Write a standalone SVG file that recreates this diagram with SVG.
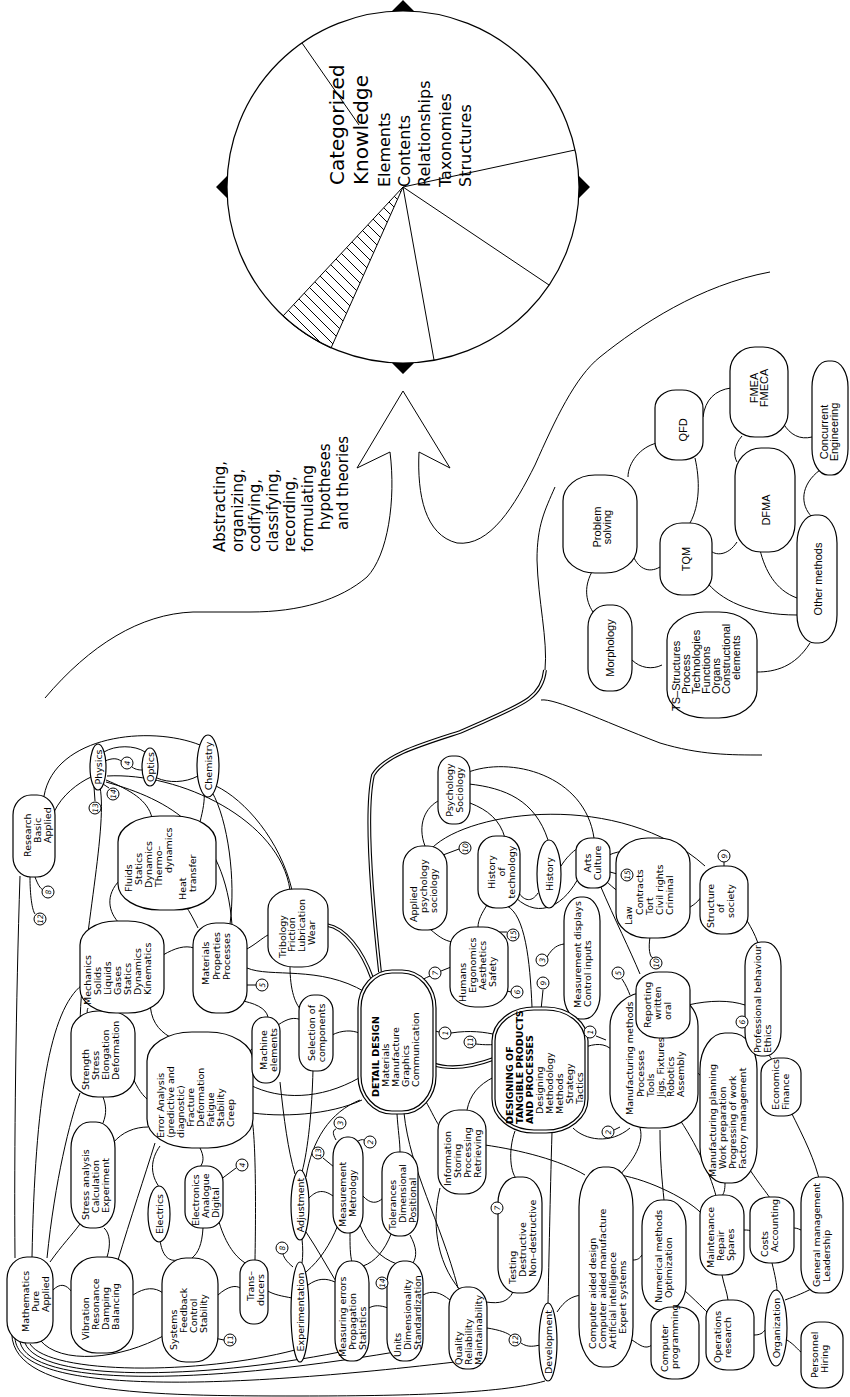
<svg xmlns="http://www.w3.org/2000/svg" width="850" height="1397" viewBox="0 0 850 1397">
<style>
.t{font-family:"DejaVu Sans",sans-serif;font-size:9.5px;fill:#000}
.tb{font-weight:bold}
.s{font-family:"Liberation Sans",Arial,sans-serif;font-size:11px;fill:#000}
.n{fill:#fff;stroke:#000;stroke-width:1.2}
.c{fill:none;stroke:#000;stroke-width:1}
.d1{fill:none;stroke:#000;stroke-width:3.8}
.d2{fill:none;stroke:#fff;stroke-width:1.6}
.r circle{fill:#fff;stroke:#000;stroke-width:1}
.r text{font-family:"DejaVu Sans",sans-serif;font-size:7.5px;font-style:italic}
.big{font-family:"DejaVu Sans",sans-serif;fill:#000}
</style>
<defs>
<pattern id="hatch" patternUnits="userSpaceOnUse" width="11" height="11"><path d="M0,0 L11,11 M-3,8 L3,14 M8,-3 L14,3" stroke="#000" stroke-width="1"/></pattern>
</defs>
<rect width="850" height="1397" fill="#fff"/>

<g id="knowledge">
<circle cx="403" cy="187" r="176" fill="#fff" stroke="#000" stroke-width="1.2"/>
<path d="M403 187 L283 316 A176 176 0 0 0 331 348 Z" fill="url(#hatch)" stroke="#000" stroke-width="1"/>
<path class="c" d="M403 187 L434 360 M403 187 L549 285 M403 187 L575 150 M302 43 L359 125"/>
<path d="M392 363 L414 363 L403 374 Z M392 11 L414 11 L403 0 Z M227 176 L227 198 L216 187 Z M579 176 L579 198 L590 187 Z" fill="#000"/>
<text class="big" font-size="20" transform="translate(344,185) rotate(-90)">Categorized</text>
<text class="big" font-size="20" transform="translate(368,185) rotate(-90)">Knowledge</text>
<text class="big" font-size="16" transform="translate(390,187) rotate(-90)">Elements</text>
<text class="big" font-size="16" transform="translate(410,187) rotate(-90)">Contents</text>
<text class="big" font-size="16" transform="translate(430,187) rotate(-90)">Relationships</text>
<text class="big" font-size="16" transform="translate(451,187) rotate(-90)">Taxonomies</text>
<text class="big" font-size="16" transform="translate(471,187) rotate(-90)">Structures</text>
</g>

<g id="arrow">
<path class="c" stroke-width="1.2" d="M45 698 C90 645 140 614 193 612 L250 612 C300 612 340 600 367 577 C388 555 396 500 390 452 L357 468 L403 391 L450 468 L419 452 C417 495 425 535 457 543 C490 547 515 505 535 465 C555 420 575 377 600 357 C640 325 700 285 770 272"/>
<text class="big" font-size="15" transform="translate(225,552) rotate(-90)">Abstracting,</text>
<text class="big" font-size="15" transform="translate(242.5,552) rotate(-90)">organizing,</text>
<text class="big" font-size="15" transform="translate(260,552) rotate(-90)">codifying,</text>
<text class="big" font-size="15" transform="translate(277.5,552) rotate(-90)">classifying,</text>
<text class="big" font-size="15" transform="translate(295,552) rotate(-90)">recording,</text>
<text class="big" font-size="15" transform="translate(312.5,552) rotate(-90)">formulating</text>
<text class="big" font-size="15" transform="translate(330,530) rotate(-90)">hypotheses</text>
<text class="big" font-size="15" transform="translate(347.5,530) rotate(-90)">and  theories</text>
</g>

<g id="connectors">
<path class="c" d="M555 487 C545 510 537 525 537 560 C538 600 548 640 545 670"/>
<path class="d1" d="M545 670 C542 700 520 705 460 732 C420 745 385 755 373 775 C365 810 372 900 380 972"/>
<path class="d2" d="M545 670 C542 700 520 705 460 732 C420 745 385 755 373 775 C365 810 372 900 380 972"/>
<path class="d1" d="M327 925 C345 928 362 950 372 978"/>
<path class="d2" d="M327 925 C345 928 362 950 372 978"/>
<path class="d1" d="M433 1064 C455 1072 480 1064 496 1058"/>
<path class="d2" d="M433 1064 C455 1072 480 1064 496 1058"/>
<path class="c" d="M541 700 C555 698 600 720 660 743 C700 755 730 755 762 755"/>

<path class="c" d="M44 796 C55 735 150 725 200 745"/>
<path class="c" d="M54 812 C62 795 78 783 91 777"/>
<path class="c" d="M104 752 C115 745 135 745 145 752"/>
<path class="c" d="M105 761 C112 758 117 758 121 761 M132 767 C136 770 140 770 143 770"/>
<path class="c" d="M157 778 C168 783 185 783 198 776"/>
<path class="c" d="M94 787 L95 801 M103 784 L109 788"/>
<path class="c" d="M106 780 C130 790 148 800 152 818"/>
<path class="c" d="M106 782 C170 800 225 830 232 925"/>
<path class="c" d="M107 776 C180 772 280 820 290 890"/>
<path class="c" d="M216 786 C245 800 280 840 292 890"/>
<path class="c" d="M212 792 C228 820 236 880 230 924"/>
<path class="c" d="M204 792 C205 800 203 810 200 822"/>
<path class="c" d="M35 877 C38 885 40 888 43 890 M30 877 C30 895 32 910 35 914"/>
<path class="c" d="M20 876 C16 1000 14 1150 15 1258"/>
<path class="c" d="M82 985 C50 1010 35 1100 32 1257"/>
<path class="c" d="M47 1258 C55 1180 70 1120 80 1093"/>
<path class="c" d="M100 787 C108 830 80 950 80 1030"/>
<path class="c" d="M120 880 C105 895 108 912 120 924"/>
<path class="c" d="M185 905 C190 912 194 920 198 928"/>
<path class="c" d="M163 955 C175 948 185 945 194 948"/>
<path class="c" d="M88 1008 C86 1012 88 1016 90 1018"/>
<path class="c" d="M150 1000 C150 1020 158 1030 170 1037"/>
<path class="c" d="M238 1000 C255 1003 266 1008 268 1017"/>
<path class="c" d="M244 985 L256 985"/>
<path class="c" d="M245 950 C255 945 262 938 268 935"/>
<path class="c" d="M247 968 C270 978 320 965 365 992"/>
<path class="c" d="M290 966 C290 990 295 1005 303 1012"/>
<path class="c" d="M130 1072 C136 1085 140 1093 148 1100"/>
<path class="c" d="M103 1123 C107 1113 106 1105 103 1097"/>
<path class="c" d="M113 1143 C122 1132 135 1127 148 1127"/>
<path class="c" d="M50 1262 C62 1245 72 1235 80 1224"/>
<path class="c" d="M53 1290 C60 1283 66 1284 72 1292"/>
<path class="c" d="M107 1257 C111 1245 110 1233 104 1228"/>
<path class="c" d="M118 1260 C130 1220 145 1175 155 1143"/>
<path class="c" d="M133 1295 C145 1287 155 1287 163 1293"/>
<path class="c" d="M160 1146 C150 1160 150 1175 160 1188"/>
<path class="c" d="M200 1148 C204 1156 204 1162 200 1167"/>
<path class="c" d="M160 1240 C162 1255 168 1262 178 1260"/>
<path class="c" d="M203 1228 C202 1245 198 1253 192 1258"/>
<path class="c" d="M219 1222 C226 1245 236 1258 247 1264"/>
<path class="c" d="M220 1180 L236 1168"/>
<path class="c" d="M218 1295 C228 1286 236 1285 240 1288"/>
<path class="c" d="M214 1338 L224 1340"/>
<path class="c" d="M40 1340 C60 1365 120 1360 165 1335"/>
<path class="c" d="M250 1110 C256 1125 256 1200 255 1260"/>
<path class="c" d="M243 1060 C248 1055 250 1050 253 1048"/>
<path class="c" d="M250 1085 C280 1100 320 1100 359 1078"/>
<path class="c" d="M246 1112 C280 1118 330 1115 362 1100"/>
<path class="c" d="M278 1025 C288 1018 295 1017 301 1020"/>
<path class="c" d="M280 1082 C284 1120 288 1150 295 1174"/>
<path class="c" d="M313 1070 C312 1110 308 1150 302 1172"/>
<path class="c" d="M332 1035 C342 1030 352 1030 359 1033"/>
<path class="c" d="M306 1177 C312 1140 330 1112 360 1100"/>
<path class="c" d="M336 1140 C332 1133 333 1130 336 1129 M356 1142 C360 1140 362 1139 364 1140 M334 1167 L323 1158"/>
<path class="c" d="M333 1196 C322 1188 315 1192 309 1198"/>
<path class="c" d="M363 1196 C370 1204 377 1204 383 1198"/>
<path class="c" d="M338 1225 C330 1245 320 1260 306 1272"/>
<path class="c" d="M350 1233 C350 1245 350 1255 352 1262"/>
<path class="c" d="M360 1225 C368 1245 380 1258 397 1264"/>
<path class="c" d="M302 1239 C303 1248 303 1256 302 1263"/>
<path class="c" d="M306 1232 C318 1250 326 1265 337 1283"/>
<path class="c" d="M293 1267 C287 1262 284 1258 283 1254"/>
<path class="c" d="M292 1298 C282 1296 274 1295 266 1290"/>
<path class="c" d="M308 1285 C318 1278 326 1278 335 1282"/>
<path class="c" d="M391 1234 C385 1250 375 1262 363 1266"/>
<path class="c" d="M410 1235 C417 1248 417 1256 413 1263"/>
<path class="c" d="M396 1276 C392 1278 390 1280 388 1282"/>
<path class="c" d="M388 1308 C380 1305 374 1305 369 1308"/>
<path class="c" d="M423 1295 C432 1290 440 1292 450 1300"/>
<path class="c" d="M397 1114 C398 1130 400 1142 400 1152"/>
<path class="c" d="M404 1113 C410 1170 440 1220 458 1288"/>
<path class="c" d="M425 1100 C432 1112 436 1122 442 1130"/>
<path class="c" d="M12 1328 C5 1395 150 1396 300 1396 C400 1396 500 1394 545 1381"/>
<path class="c" d="M15 1338 C18 1392 200 1392 455 1362"/>
<path class="c" d="M20 1342 C30 1387 200 1385 395 1352"/>
<path class="c" d="M25 1343 C40 1382 200 1380 340 1352"/>
<path class="c" d="M30 1344 C50 1375 200 1375 295 1350"/>
<path class="c" d="M435 1031 L439 1032 M451 1033 C470 1030 485 1032 497 1035 M476 1044 C485 1045 492 1045 497 1044"/>
<path class="c" d="M494 1077 C478 1085 470 1095 467 1110"/>
<path class="c" d="M515 1131 C508 1150 510 1175 518 1180"/>
<path class="c" d="M552 1132 C550 1200 549 1260 548 1303"/>
<path class="c" d="M504 1212 L501 1214"/>
<path class="c" d="M513 1292 C508 1302 500 1304 486 1302"/>
<path class="c" d="M487 1328 C500 1330 508 1333 511 1336 M521 1343 C528 1348 535 1346 540 1345"/>
<path class="c" d="M557 1312 C565 1300 572 1296 582 1295"/>
<path class="c" d="M440 1188 C432 1220 435 1260 460 1290"/>
<path class="c" d="M485 1145 C520 1150 560 1160 585 1175"/>
<path class="c" d="M583 1048 C595 1043 605 1043 612 1050"/>
<path class="c" d="M596 1036 L606 1040"/>
<path class="c" d="M573 1128 C585 1140 610 1145 630 1128"/>
<path class="c" d="M614 1130 L620 1127"/>
<path class="c" d="M640 1128 C645 1145 630 1165 615 1180"/>
<path class="c" d="M543 990 L541 1010"/>
<path class="c" d="M547 957 C553 947 558 945 564 944"/>
<path class="c" d="M507 906 C525 915 530 960 532 1007"/>
<path class="c" d="M503 990 L511 992"/>
<path class="c" d="M497 932 L507 932"/>
<path class="c" d="M451 967 L441 971 M430 976 C420 980 415 985 413 990"/>
<path class="c" d="M430 929 C440 938 447 942 455 942"/>
<path class="c" d="M443 855 L459 849"/>
<path class="c" d="M440 800 C425 807 417 825 425 846"/>
<path class="c" d="M470 803 C488 810 500 820 505 838"/>
<path class="c" d="M469 784 C505 788 535 800 548 840"/>
<path class="c" d="M466 773 C510 755 585 775 594 838"/>
<path class="c" d="M432 848 C470 810 620 790 705 866"/>
<path class="c" d="M518 892 C525 902 532 902 538 893"/>
<path class="c" d="M516 898 C540 920 565 905 580 875"/>
<path class="c" d="M561 866 C566 858 572 852 578 848"/>
<path class="c" d="M487 905 C482 913 478 920 478 927"/>
<path class="c" d="M609 855 C620 850 632 850 640 855"/>
<path class="c" d="M610 872 L621 875"/>
<path class="c" d="M600 885 C615 920 630 950 640 974"/>
<path class="c" d="M605 880 C640 915 690 925 705 890"/>
<path class="c" d="M650 937 C648 950 650 960 655 958"/>
<path class="c" d="M622 979 C626 985 628 990 630 995"/>
<path class="c" d="M688 1005 C710 1000 730 1000 745 1005"/>
<path class="c" d="M748 1022 L755 1020"/>
<path class="c" d="M724 862 L724 866"/>
<path class="c" d="M695 1070 C700 1075 703 1078 705 1082"/>
<path class="c" d="M660 1130 C660 1160 662 1180 664 1200"/>
<path class="c" d="M680 1120 C700 1150 712 1180 716 1196"/>
<path class="c" d="M725 1183 C725 1190 724 1193 722 1196"/>
<path class="c" d="M750 1170 C760 1185 766 1192 770 1198"/>
<path class="c" d="M790 1110 C805 1140 815 1160 820 1183"/>
<path class="c" d="M772 1060 C770 1056 768 1054 766 1052"/>
<path class="c" d="M760 950 C755 930 745 920 742 910"/>
<path class="c" d="M801 1230 C797 1228 795 1228 793 1228"/>
<path class="c" d="M815 1287 C800 1295 790 1298 785 1300"/>
<path class="c" d="M772 1263 C775 1275 777 1285 777 1291"/>
<path class="c" d="M722 1275 C724 1285 727 1292 728 1300"/>
<path class="c" d="M744 1230 C748 1230 750 1230 751 1232"/>
<path class="c" d="M684 1290 C695 1300 705 1310 710 1315"/>
<path class="c" d="M632 1340 C640 1345 645 1350 652 1345"/>
<path class="c" d="M633 1260 C638 1260 640 1258 642 1255"/>
<path class="c" d="M754 1335 C760 1335 763 1333 765 1330"/>
<path class="c" d="M787 1340 C795 1345 798 1350 801 1352"/>
<path class="c" d="M620 1175 C650 1180 690 1200 703 1215"/>
<path class="c" d="M593 570 C584 585 585 600 593 612"/>
<path class="c" d="M632 553 C637 568 648 574 660 567"/>
<path class="c" d="M632 660 C640 668 652 670 662 665"/>
<path class="c" d="M710 550 C715 556 728 556 737 542"/>
<path class="c" d="M705 580 C720 600 750 615 797 615"/>
<path class="c" d="M760 550 C765 570 775 590 797 598"/>
<path class="c" d="M757 672 C775 672 795 667 810 643"/>
<path class="c" d="M820 470 C800 485 800 505 812 517"/>
<path class="c" d="M628 477 C628 463 640 447 657 443"/>
<path class="c" d="M703 417 C705 400 715 390 731 388"/>
<path class="c" d="M783 423 C790 435 800 440 812 437"/>
<path class="c" d="M742 436 C734 445 733 455 737 462"/>
<path class="c" d="M695 458 C700 480 700 505 690 523"/>
</g>

<g id="n-math"><rect class="n" x="7" y="1257" width="46" height="86" rx="20" ry="22"/><text class="t" transform="translate(29,1332) rotate(-90)"><tspan x="0" y="0">Mathematics</tspan><tspan x="20" y="10">Pure</tspan><tspan x="20" y="20">Applied</tspan></text></g>
<g id="n-vibration"><rect class="n" x="71" y="1257" width="62" height="96" rx="26" ry="24"/><text class="t" transform="translate(89,1340) rotate(-90)"><tspan x="0" y="0">Vibration</tspan><tspan x="10" y="10">Resonance</tspan><tspan x="10" y="20">Damping</tspan><tspan x="10" y="30">Balancing</tspan></text></g>
<g id="n-systems"><rect class="n" x="162" y="1258" width="56" height="104" rx="24" ry="26"/><text class="t" transform="translate(177,1350) rotate(-90)"><tspan x="0" y="0">Systems</tspan><tspan x="17" y="10">Feedback</tspan><tspan x="17" y="20">Control</tspan><tspan x="17" y="30">Stability</tspan></text></g>
<g id="n-stressan"><rect class="n" x="71" y="1122" width="44" height="106" rx="19" ry="26"/><text class="t" transform="translate(89,1220) rotate(-90)"><tspan x="0" y="0">Stress  analysis</tspan><tspan x="7" y="10">Calculation</tspan><tspan x="7" y="20">Experiment</tspan></text></g>
<g id="n-strength"><rect class="n" x="71" y="1011" width="64" height="86" rx="27" ry="22"/><text class="t" transform="translate(89,1090) rotate(-90)"><tspan x="0" y="0">Strength</tspan><tspan x="10" y="10">Stress</tspan><tspan x="10" y="20">Elongation</tspan><tspan x="10" y="30">Deformation</tspan></text></g>
<g id="n-error"><rect class="n" x="147" y="1032" width="106" height="116" rx="45" ry="29"/><text class="t" transform="translate(164,1138) rotate(-90)"><tspan x="0" y="0">Error  Analysis</tspan><tspan x="0" y="10">(predictive  and</tspan><tspan x="0" y="20">diagnostic)</tspan><tspan x="11" y="30">Fracture</tspan><tspan x="11" y="40">Deformation</tspan><tspan x="11" y="50">Fatigue</tspan><tspan x="11" y="60">Stability</tspan><tspan x="11" y="70">Creep</tspan></text></g>
<g id="n-electrics"><ellipse class="n" cx="159" cy="1214" rx="11" ry="28"/><text class="t" text-anchor="middle" transform="translate(163,1214) rotate(-90)">Electrics</text></g>
<g id="n-electronics"><rect class="n" x="185" y="1166" width="38" height="62" rx="16" ry="16"/><text class="t" transform="translate(199,1226) rotate(-90)"><tspan x="0" y="0">Electronics</tspan><tspan x="8" y="10">Analogue</tspan><tspan x="8" y="20">Digital</tspan></text></g>
<g id="n-trans"><rect class="n" x="240" y="1260" width="28" height="64" rx="13" ry="14"/><text class="t" text-anchor="middle" transform="translate(254,1286) rotate(-90)"><tspan x="0" y="0">Trans–</tspan><tspan x="-4" y="10">ducers</tspan></text></g>
<g id="n-machine"><rect class="n" x="252" y="1017" width="28" height="66" rx="13" ry="14"/><text class="t" text-anchor="middle" transform="translate(267,1050) rotate(-90)"><tspan x="0" y="0">Machine</tspan><tspan x="0" y="10">elements</tspan></text></g>
<g id="n-selection"><rect class="n" x="299" y="995" width="34" height="76" rx="15" ry="16"/><text class="t" text-anchor="middle" transform="translate(315,1033) rotate(-90)"><tspan x="0" y="0">Selection  of</tspan><tspan x="0" y="10">components</tspan></text></g>
<g id="n-detail"><rect class="n" x="358" y="970" width="78" height="144" rx="34" ry="38"/><rect class="n" x="361" y="973" width="72" height="138" rx="31" ry="35"/><text class="t" transform="translate(379,1097) rotate(-90)"><tspan class="tb" x="0" y="0">DETAIL  DESIGN</tspan><tspan x="10" y="10">Materials</tspan><tspan x="10" y="20">Manufacture</tspan><tspan x="10" y="30">Graphics</tspan><tspan x="10" y="40">Communication</tspan></text></g>
<g id="n-adjust"><ellipse class="n" cx="300" cy="1205" rx="9" ry="35"/><text class="t" text-anchor="middle" transform="translate(304,1205) rotate(-90)">Adjustment</text></g>
<g id="n-measure"><rect class="n" x="333" y="1137" width="30" height="96" rx="14" ry="20"/><text class="t" transform="translate(346,1227) rotate(-90)"><tspan x="0" y="0">Measurement</tspan><tspan x="10" y="10">Metrology</tspan></text></g>
<g id="n-toler"><rect class="n" x="382" y="1152" width="36" height="84" rx="16" ry="20"/><text class="t" transform="translate(396,1230) rotate(-90)"><tspan x="0" y="0">Tolerances</tspan><tspan x="7" y="10">Dimensional</tspan><tspan x="7" y="20">Positional</tspan></text></g>
<g id="n-experiment"><ellipse class="n" cx="300" cy="1312" rx="9" ry="50"/><text class="t" text-anchor="middle" transform="translate(304,1312) rotate(-90)">Experimentation</text></g>
<g id="n-measerr"><rect class="n" x="335" y="1261" width="34" height="100" rx="15" ry="22"/><text class="t" transform="translate(346,1357) rotate(-90)"><tspan x="0" y="0">Measuring  errors</tspan><tspan x="7" y="10">Propagation</tspan><tspan x="7" y="20">Statistics</tspan></text></g>
<g id="n-units"><rect class="n" x="387" y="1261" width="36" height="100" rx="16" ry="22"/><text class="t" transform="translate(401,1357) rotate(-90)"><tspan x="0" y="0">Units</tspan><tspan x="7" y="10">Dimensionality</tspan><tspan x="7" y="20">Standardization</tspan></text></g>
<g id="n-research"><rect class="n" x="13" y="795" width="42" height="82" rx="18" ry="20"/><text class="t" transform="translate(31,857) rotate(-90)"><tspan x="0" y="0">Research</tspan><tspan x="14" y="10">Basic</tspan><tspan x="14" y="20">Applied</tspan></text></g>
<g id="n-physics"><ellipse class="n" cx="98" cy="767" rx="8" ry="23"/><text class="t" text-anchor="middle" transform="translate(102,767) rotate(-90)">Physics</text></g>
<g id="n-optics"><ellipse class="n" cx="150" cy="767" rx="8" ry="19"/><text class="t" text-anchor="middle" transform="translate(154,767) rotate(-90)">Optics</text></g>
<g id="n-chem"><ellipse class="n" cx="208" cy="766" rx="11" ry="31"/><text class="t" text-anchor="middle" transform="translate(212,766) rotate(-90)">Chemistry</text></g>
<g id="n-fluids"><rect class="n" x="118" y="816" width="98" height="94" rx="42" ry="26"/><text class="t" transform="translate(132,892) rotate(-90)"><tspan x="0" y="0">Fluids</tspan><tspan x="7" y="10">Statics</tspan><tspan x="4" y="20">Dynamics</tspan><tspan x="5" y="30">Thermo–</tspan><tspan x="19" y="40">dynamics</tspan><tspan x="-8" y="54">Heat</tspan><tspan x="0" y="64">transfer</tspan></text></g>
<g id="n-mech"><rect class="n" x="80" y="921" width="84" height="92" rx="36" ry="24"/><text class="t" transform="translate(91,1005) rotate(-90)"><tspan x="0" y="0">Mechanics</tspan><tspan x="10" y="10">Solids</tspan><tspan x="10" y="20">Liquids</tspan><tspan x="10" y="30">Gases</tspan><tspan x="10" y="40">Statics</tspan><tspan x="10" y="50">Dynamics</tspan><tspan x="10" y="60">Kinematics</tspan></text></g>
<g id="n-materials"><rect class="n" x="193" y="923" width="54" height="90" rx="23" ry="22"/><text class="t" transform="translate(209,985) rotate(-90)"><tspan x="0" y="0">Materials</tspan><tspan x="5" y="11">Properties</tspan><tspan x="5" y="21">Processes</tspan></text></g>
<g id="n-tribology"><rect class="n" x="268" y="889" width="60" height="78" rx="26" ry="20"/><text class="t" transform="translate(286,958) rotate(-90)"><tspan x="0" y="0">Tribology</tspan><tspan x="6" y="9">Friction</tspan><tspan x="6" y="19">Lubrication</tspan><tspan x="13" y="29">Wear</tspan></text></g>

<g id="n-applied"><rect class="n" x="403" y="846" width="44" height="84" rx="19" ry="20"/><text class="t" transform="translate(417,922) rotate(-90)"><tspan x="0" y="0">Applied</tspan><tspan x="9" y="10">psychology</tspan><tspan x="9" y="20">sociology</tspan></text></g>
<g id="n-psych"><rect class="n" x="438" y="756" width="32" height="68" rx="14" ry="16"/><text class="t" text-anchor="middle" transform="translate(453,790) rotate(-90)"><tspan x="0" y="0">Psychology</tspan><tspan x="0" y="10">Sociology</tspan></text></g>
<g id="n-histtech"><rect class="n" x="478" y="836" width="42" height="72" rx="18" ry="18"/><text class="t" text-anchor="middle" transform="translate(495,872) rotate(-90)"><tspan x="0" y="0">History</tspan><tspan x="0" y="10">of</tspan><tspan x="0" y="20">technology</tspan></text></g>
<g id="n-history"><ellipse class="n" cx="549" cy="874" rx="12" ry="34"/><text class="t" text-anchor="middle" transform="translate(553,874) rotate(-90)">History</text></g>
<g id="n-arts"><rect class="n" x="576" y="838" width="34" height="50" rx="15" ry="13"/><text class="t" text-anchor="middle" transform="translate(591,863) rotate(-90)"><tspan x="0" y="0">Arts</tspan><tspan x="0" y="10">Culture</tspan></text></g>
<g id="n-humans"><rect class="n" x="450" y="927" width="58" height="80" rx="25" ry="20"/><text class="t" transform="translate(466,1002) rotate(-90)"><tspan x="0" y="0">Humans</tspan><tspan x="9" y="10">Ergonomics</tspan><tspan x="12" y="20">Aesthetics</tspan><tspan x="15" y="30">Safety</tspan></text></g>
<g id="n-measdisp"><rect class="n" x="564" y="897" width="36" height="122" rx="16" ry="24"/><text class="t" transform="translate(581,1008) rotate(-90)"><tspan x="0" y="0">Measurement  displays</tspan><tspan x="1" y="10">Control  inputs</tspan></text></g>
<g id="n-info"><rect class="n" x="438" y="1110" width="48" height="84" rx="21" ry="20"/><text class="t" transform="translate(451,1186) rotate(-90)"><tspan x="0" y="0">Information</tspan><tspan x="8" y="10">Storing</tspan><tspan x="8" y="20">Processing</tspan><tspan x="8" y="30">Retrieving</tspan></text></g>
<g id="n-testing"><rect class="n" x="498" y="1177" width="44" height="116" rx="19" ry="26"/><text class="t" transform="translate(516,1284) rotate(-90)"><tspan x="0" y="0">Testing</tspan><tspan x="7" y="10">Destructive</tspan><tspan x="7" y="20">Non–destructive</tspan></text></g>
<g id="n-quality"><rect class="n" x="449" y="1287" width="38" height="82" rx="17" ry="20"/><text class="t" transform="translate(462,1365) rotate(-90)"><tspan x="0" y="0">Quality</tspan><tspan x="0" y="10">Reliability</tspan><tspan x="0" y="20">Maintainability</tspan></text></g>
<g id="n-dev"><ellipse class="n" cx="548" cy="1342" rx="9" ry="39"/><text class="t" text-anchor="middle" transform="translate(552,1342) rotate(-90)">Development</text></g>
<g id="n-cad"><rect class="n" x="579" y="1167" width="54" height="200" rx="24" ry="40"/><text class="t" transform="translate(596,1349) rotate(-90)"><tspan x="0" y="0">Computer  aided  design</tspan><tspan x="0" y="10">Computer  aided  manufacture</tspan><tspan x="0" y="20">Artificial  intelligence</tspan><tspan x="15" y="30">Expert  systems</tspan></text></g>
<g id="n-designing"><rect class="n" x="492" y="1007" width="96" height="126" rx="42" ry="34"/><rect class="n" x="495" y="1010" width="90" height="120" rx="39" ry="31"/><text class="t" transform="translate(513,1124) rotate(-90)"><tspan class="tb" x="0" y="0">DESIGNING  OF</tspan><tspan class="tb" x="0" y="10">TANGIBLE  PRODUCTS</tspan><tspan class="tb" x="0" y="20">AND  PROCESSES</tspan><tspan x="10" y="30">Designing</tspan><tspan x="10" y="40">Methodology</tspan><tspan x="10" y="50">Methods</tspan><tspan x="20" y="60">Strategy</tspan><tspan x="20" y="70">Tactics</tspan></text></g>

<g id="n-law"><rect class="n" x="616" y="838" width="74" height="100" rx="32" ry="25"/><text class="t" transform="translate(632,925) rotate(-90)"><tspan x="0" y="0">Law</tspan><tspan x="10" y="11">Contracts</tspan><tspan x="10" y="21">Tort</tspan><tspan x="10" y="31">Civil  rights</tspan><tspan x="10" y="41">Criminal</tspan></text></g>
<g id="n-structure"><rect class="n" x="700" y="866" width="48" height="68" rx="21" ry="18"/><text class="t" transform="translate(714,928) rotate(-90)"><tspan x="0" y="0">Structure</tspan><tspan x="15" y="10">of</tspan><tspan x="10" y="20">society</tspan></text></g>
<g id="n-manmeth"><rect class="n" x="610" y="992" width="88" height="136" rx="38" ry="34"/><text class="t" transform="translate(633,1115) rotate(-90)"><tspan x="0" y="0">Manufacturing  methods</tspan><tspan x="18" y="11">Processes</tspan><tspan x="18" y="21">Tools</tspan><tspan x="18" y="31">Jigs,  Fixtures</tspan><tspan x="18" y="41">Robotics</tspan><tspan x="18" y="51">Assembly</tspan></text></g>
<g id="n-reporting"><rect class="n" x="636" y="972" width="54" height="66" rx="23" ry="18"/><text class="t" transform="translate(651,1028) rotate(-90)"><tspan x="0" y="0">Reporting</tspan><tspan x="8" y="10">written</tspan><tspan x="8" y="20">oral</tspan></text></g>
<g id="n-manplan"><rect class="n" x="700" y="1033" width="57" height="150" rx="25" ry="36"/><text class="t" transform="translate(716,1177) rotate(-90)"><tspan x="0" y="0">Manufacturing  planning</tspan><tspan x="8" y="10">Work  preparation</tspan><tspan x="8" y="20">Progressing  of  work</tspan><tspan x="8" y="30">Factory  management</tspan></text></g>
<g id="n-prof"><rect class="n" x="745" y="942" width="36" height="114" rx="16" ry="24"/><text class="t" transform="translate(761,1053) rotate(-90)"><tspan x="0" y="0">Professional  behaviour</tspan><tspan x="0" y="10">Ethics</tspan></text></g>
<g id="n-econ"><rect class="n" x="761" y="1058" width="40" height="58" rx="17" ry="15"/><text class="t" transform="translate(779,1110) rotate(-90)"><tspan x="0" y="0">Economics</tspan><tspan x="0" y="10">Finance</tspan></text></g>
<g id="n-genmgmt"><rect class="n" x="801" y="1177" width="42" height="116" rx="18" ry="26"/><text class="t" transform="translate(820,1287) rotate(-90)"><tspan x="0" y="0">General  management</tspan><tspan x="5" y="10">Leadership</tspan></text></g>
<g id="n-nummeth"><rect class="n" x="642" y="1200" width="44" height="110" rx="19" ry="26"/><text class="t" transform="translate(662,1303) rotate(-90)"><tspan x="0" y="0">Numerical  methods</tspan><tspan x="5" y="10">Optimization</tspan></text></g>
<g id="n-maint"><rect class="n" x="700" y="1195" width="44" height="80" rx="19" ry="20"/><text class="t" transform="translate(714,1268) rotate(-90)"><tspan x="0" y="0">Maintenance</tspan><tspan x="7" y="10">Repair</tspan><tspan x="7" y="20">Spares</tspan></text></g>
<g id="n-costs"><rect class="n" x="750" y="1197" width="44" height="66" rx="19" ry="16"/><text class="t" transform="translate(768,1257) rotate(-90)"><tspan x="0" y="0">Costs</tspan><tspan x="5" y="10">Accounting</tspan></text></g>
<g id="n-compprog"><rect class="n" x="651" y="1307" width="48" height="72" rx="21" ry="18"/><text class="t" transform="translate(668,1372) rotate(-90)"><tspan x="0" y="0">Computer</tspan><tspan x="3" y="10">programming</tspan></text></g>
<g id="n-opres"><rect class="n" x="706" y="1300" width="48" height="70" rx="21" ry="17"/><text class="t" transform="translate(721,1363) rotate(-90)"><tspan x="0" y="0">Operations</tspan><tspan x="5" y="10">research</tspan></text></g>
<g id="n-organ"><ellipse class="n" cx="776" cy="1328" rx="11" ry="38"/><text class="t" text-anchor="middle" transform="translate(780,1328) rotate(-90)">Organization</text></g>
<g id="n-personnel"><rect class="n" x="801" y="1322" width="42" height="66" rx="18" ry="16"/><text class="t" transform="translate(818,1378) rotate(-90)"><tspan x="0" y="0">Personnel</tspan><tspan x="5" y="10">Hiring</tspan></text></g>

<g id="n-problem"><rect class="n" x="563" y="475" width="74" height="98" rx="32" ry="26"/><text class="s" text-anchor="middle" transform="translate(601,527) rotate(-90)"><tspan x="0" y="0">Problem</tspan><tspan x="0" y="10">solving</tspan></text></g>
<g id="n-morph"><rect class="n" x="588" y="605" width="44" height="86" rx="19" ry="22"/><text class="s" text-anchor="middle" transform="translate(614,648) rotate(-90)">Morphology</text></g>
<g id="n-tqm"><rect class="n" x="660" y="523" width="52" height="72" rx="22" ry="20"/><text class="s" text-anchor="middle" transform="translate(690,559) rotate(-90)">TQM</text></g>
<g id="n-dfma"><rect class="n" x="735" y="448" width="60" height="104" rx="26" ry="28"/><text class="s" text-anchor="middle" transform="translate(770,510) rotate(-90)">DFMA</text></g>
<g id="n-other"><rect class="n" x="797" y="515" width="40" height="128" rx="18" ry="28"/><text class="s" text-anchor="middle" transform="translate(822,579) rotate(-90)">Other  methods</text></g>
<g id="n-ts"><rect class="n" x="667" y="612" width="90" height="106" rx="38" ry="28"/><text class="s" transform="translate(680,711) rotate(-90)"><tspan x="0" y="0">TS–Structures</tspan><tspan x="17" y="10">Process</tspan><tspan x="17" y="20">Technologies</tspan><tspan x="17" y="30">Functions</tspan><tspan x="17" y="40">Organs</tspan><tspan x="17" y="50">Constructional</tspan><tspan x="31" y="60">elements</tspan></text></g>
<g id="n-qfd"><rect class="n" x="655" y="390" width="48" height="70" rx="21" ry="18"/><text class="s" text-anchor="middle" transform="translate(687,430) rotate(-90)">QFD</text></g>
<g id="n-fmea"><rect class="n" x="730" y="347" width="58" height="90" rx="25" ry="24"/><text class="s" text-anchor="middle" transform="translate(758,388) rotate(-90)"><tspan x="0" y="0">FMEA</tspan><tspan x="0" y="10">FMECA</tspan></text></g>
<g id="n-concurrent"><rect class="n" x="812" y="361" width="36" height="114" rx="16" ry="26"/><text class="s" text-anchor="middle" transform="translate(828,432) rotate(-90)"><tspan x="0" y="0">Concurrent</tspan><tspan x="0" y="10">Engineering</tspan></text></g>

<g id="refs" class="r">
<g><circle cx="127" cy="763" r="6"/><text transform="translate(130,763) rotate(-90)" text-anchor="middle">4</text></g>
<g><circle cx="95" cy="808" r="6"/><text transform="translate(98,808) rotate(-90)" text-anchor="middle">13</text></g>
<g><circle cx="113" cy="794" r="6"/><text transform="translate(116,794) rotate(-90)" text-anchor="middle">14</text></g>
<g><circle cx="48" cy="892" r="6"/><text transform="translate(51,892) rotate(-90)" text-anchor="middle">8</text></g>
<g><circle cx="40" cy="919" r="6"/><text transform="translate(43,919) rotate(-90)" text-anchor="middle">12</text></g>
<g><circle cx="242" cy="1165" r="6"/><text transform="translate(245,1165) rotate(-90)" text-anchor="middle">4</text></g>
<g><circle cx="230" cy="1340" r="6"/><text transform="translate(233,1340) rotate(-90)" text-anchor="middle">11</text></g>
<g><circle cx="262" cy="985" r="6"/><text transform="translate(265,985) rotate(-90)" text-anchor="middle">5</text></g>
<g><circle cx="340" cy="1123" r="6"/><text transform="translate(343,1123) rotate(-90)" text-anchor="middle">3</text></g>
<g><circle cx="370" cy="1142" r="6"/><text transform="translate(373,1142) rotate(-90)" text-anchor="middle">2</text></g>
<g><circle cx="318" cy="1153" r="6"/><text transform="translate(321,1153) rotate(-90)" text-anchor="middle">13</text></g>
<g><circle cx="282" cy="1248" r="6"/><text transform="translate(285,1248) rotate(-90)" text-anchor="middle">8</text></g>
<g><circle cx="382" cy="1283" r="6"/><text transform="translate(385,1283) rotate(-90)" text-anchor="middle">14</text></g>
<g><circle cx="445" cy="1033" r="6"/><text transform="translate(448,1033) rotate(-90)" text-anchor="middle">1</text></g>
<g><circle cx="470" cy="1042" r="6"/><text transform="translate(473,1042) rotate(-90)" text-anchor="middle">11</text></g>
<g><circle cx="590" cy="1032" r="6"/><text transform="translate(593,1032) rotate(-90)" text-anchor="middle">1</text></g>
<g><circle cx="608" cy="1132" r="6"/><text transform="translate(611,1132) rotate(-90)" text-anchor="middle">2</text></g>
<g><circle cx="497" cy="1208" r="6"/><text transform="translate(500,1208) rotate(-90)" text-anchor="middle">7</text></g>
<g><circle cx="515" cy="1340" r="6"/><text transform="translate(518,1340) rotate(-90)" text-anchor="middle">12</text></g>
<g><circle cx="465" cy="848" r="6"/><text transform="translate(468,848) rotate(-90)" text-anchor="middle">10</text></g>
<g><circle cx="435" cy="973" r="6"/><text transform="translate(438,973) rotate(-90)" text-anchor="middle">7</text></g>
<g><circle cx="513" cy="935" r="6"/><text transform="translate(516,935) rotate(-90)" text-anchor="middle">15</text></g>
<g><circle cx="517" cy="992" r="6"/><text transform="translate(520,992) rotate(-90)" text-anchor="middle">6</text></g>
<g><circle cx="543" cy="983" r="6"/><text transform="translate(546,983) rotate(-90)" text-anchor="middle">9</text></g>
<g><circle cx="542" cy="960" r="6"/><text transform="translate(545,960) rotate(-90)" text-anchor="middle">3</text></g>
<g><circle cx="627" cy="875" r="6"/><text transform="translate(630,875) rotate(-90)" text-anchor="middle">15</text></g>
<g><circle cx="618" cy="973" r="6"/><text transform="translate(621,973) rotate(-90)" text-anchor="middle">5</text></g>
<g><circle cx="656" cy="963" r="6"/><text transform="translate(659,963) rotate(-90)" text-anchor="middle">10</text></g>
<g><circle cx="742" cy="1022" r="6"/><text transform="translate(745,1022) rotate(-90)" text-anchor="middle">6</text></g>
<g><circle cx="724" cy="856" r="6"/><text transform="translate(727,856) rotate(-90)" text-anchor="middle">9</text></g>
</g>
</svg>
